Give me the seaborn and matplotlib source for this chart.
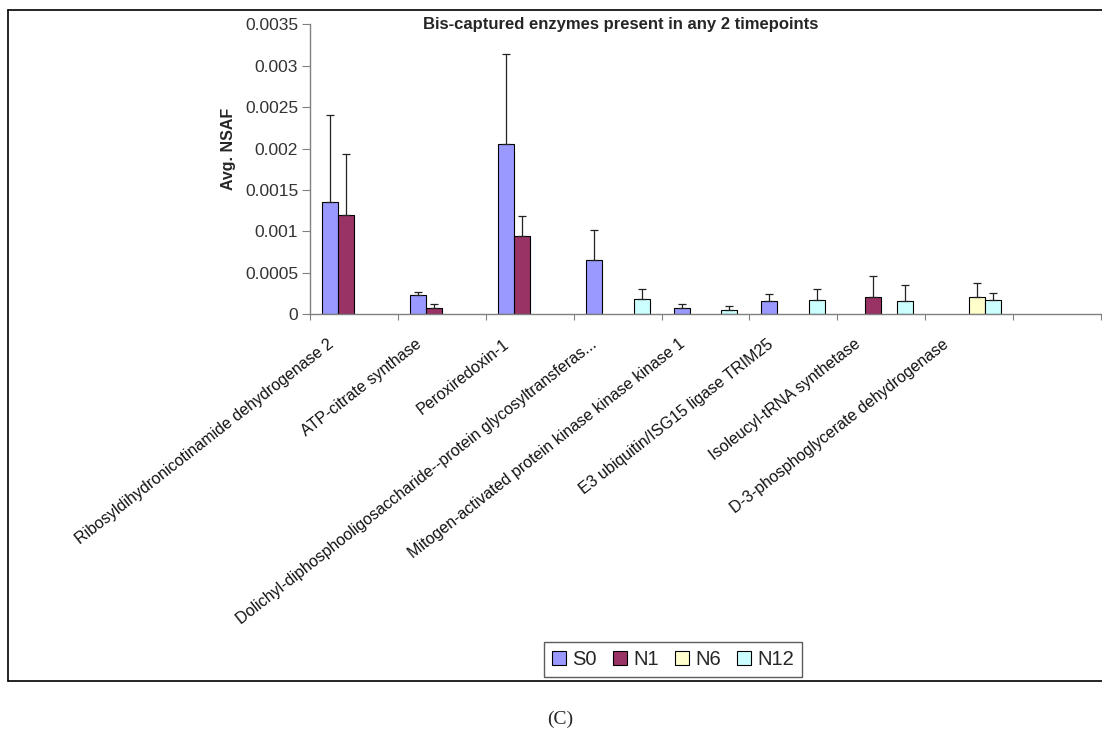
import numpy as np
import pandas as pd
import matplotlib
matplotlib.use("Agg")
import matplotlib.pyplot as plt
import seaborn as sns
from matplotlib.lines import Line2D
from matplotlib.patches import Rectangle
from matplotlib.transforms import ScaledTranslation

# ---- data -------------------------------------------------------------
proteins = [
    "Ribosyldihydronicotinamide dehydrogenase 2",
    "ATP-citrate synthase",
    "Peroxiredoxin-1",
    "Dolichyl-diphosphooligosaccharide--protein glycosyltransferas...",
    "Mitogen-activated protein kinase kinase kinase 1",
    "E3 ubiquitin/ISG15 ligase TRIM25",
    "Isoleucyl-tRNA synthetase",
    "D-3-phosphoglycerate dehydrogenase",
    "",
]
series = ["S0", "N1", "N6", "N12"]
nan = np.nan

s0_mean = [0.00135, 0.00023, 0.00206, 0.00065, 0.00008, 0.000165, nan, nan, nan]
s0_err = [0.00105, 0.000045, 0.00108, 0.00037, 0.00005, 0.000085, nan, nan, nan]
n1_mean = [0.00120, 0.00008, 0.00095, nan, nan, nan, 0.00021, nan, nan]
n1_err = [0.00073, 0.00004, 0.00024, nan, nan, nan, 0.000255, nan, nan]
n6_mean = [nan, nan, nan, nan, nan, nan, nan, 0.00021, nan]
n6_err = [nan, nan, nan, nan, nan, nan, nan, 0.00017, nan]
n12_mean = [nan, nan, nan, 0.00019, 0.000055, 0.000175, 0.000165, 0.000175, nan]
n12_err = [nan, nan, nan, 0.00012, 0.00005, 0.000135, 0.00019, 0.000085, nan]

colors = ["#9999FF", "#993366", "#FFFFCC", "#CCFFFF"]

means = {"S0": s0_mean, "N1": n1_mean, "N6": n6_mean, "N12": n12_mean}
errs = {"S0": s0_err, "N1": n1_err, "N6": n6_err, "N12": n12_err}

rows = []
for s in series:
    for p, m, e in zip(proteins, means[s], errs[s]):
        if not np.isnan(m):
            rows.append({"protein": p, "series": s, "nsaf": m, "err": e})
df = pd.DataFrame(rows)

# ---- figure -----------------------------------------------------------
sns.set_style("white")
plt.rcParams["font.family"] = ["Liberation Sans", "DejaVu Sans"]

W, H = 1102, 729
fig = plt.figure(figsize=(W / 100, H / 100), dpi=100)
ax = fig.add_axes([310 / W, 1 - 314.3 / H, (1101 - 310) / W, (314.3 - 24.3) / H])

sns.barplot(
    data=df, x="protein", y="nsaf", hue="series",
    order=proteins, hue_order=series, palette=colors,
    width=0.727, errorbar=None, saturation=1,
    edgecolor="black", linewidth=0.8, ax=ax,
)

# upper error bars drawn on top of each bar
bars = [p for p in ax.patches if isinstance(p, Rectangle)]
for bar in bars:
    h = bar.get_height()
    if not np.isfinite(h) or h <= 0:
        continue
    cx = bar.get_x() + bar.get_width() / 2
    cat = proteins[int(round(cx))]
    hit = df[(df["protein"] == cat) & np.isclose(df["nsaf"], h, rtol=0, atol=1e-12)]
    if hit.empty:
        continue
    e = hit["err"].iloc[0]
    ax.errorbar(cx, h, yerr=[[0], [e]], fmt="none", ecolor="#222222",
                elinewidth=0.9, capsize=2.8, capthick=0.9, zorder=3)

ax.set_ylim(0, 0.0035)
ax.set_xlim(-0.5, len(proteins) - 0.5)
ax.set_yticks(np.arange(0, 0.0036, 0.0005))
ax.set_yticklabels(["0", "0.0005", "0.001", "0.0015", "0.002", "0.0025",
                    "0.003", "0.0035"])
ax.tick_params(axis="y", which="major", left=True, length=5.5, width=0.8,
               color="#808080", labelsize=12.5, labelcolor="#333333", pad=3)

# category boundary ticks (major, unlabeled) and centered labels (minor)
ax.set_xticks(np.arange(-0.5, len(proteins), 1.0))
ax.set_xticklabels([])
ax.set_xticks(np.arange(len(proteins)), minor=True)
ax.set_xticklabels(proteins, minor=True, rotation=38, ha="right",
                   rotation_mode="anchor", fontsize=11.5, color="#111111")
ax.tick_params(axis="x", which="major", bottom=True, length=4.5, width=0.8,
               color="#808080")
ax.tick_params(axis="x", which="minor", bottom=False, length=0, pad=0)
shift = ScaledTranslation(-27 / 100, -22 / 100, fig.dpi_scale_trans)
for lab in ax.get_xticklabels(minor=True):
    lab.set_transform(lab.get_transform() + shift)

ax.set_xlabel("")
ax.set_ylabel("")
for side in ("top", "right"):
    ax.spines[side].set_visible(False)
for side in ("left", "bottom"):
    ax.spines[side].set_color("#808080")
    ax.spines[side].set_linewidth(1.0)
ax.grid(False)

# legend
handles, labels = ax.get_legend_handles_labels()
if ax.get_legend() is not None:
    ax.get_legend().remove()
for hnd in handles:
    hnd.set_edgecolor("black")
    hnd.set_linewidth(0.8)
leg = fig.legend(handles, labels, loc="center", bbox_to_anchor=(673 / W, 1 - 659.5 / H),
                 ncol=4, fontsize=14.5, frameon=True, fancybox=False,
                 handlelength=0.7, handleheight=0.7, handletextpad=0.3,
                 columnspacing=0.8, borderpad=0.4, borderaxespad=0)
leg.get_frame().set_edgecolor("#333333")
leg.get_frame().set_linewidth(1.0)

# titles
fig.text(620.7 / W, 1 - 25 / H, "Bis-captured enzymes present in any 2 timepoints",
         ha="center", va="center", fontsize=12, fontweight="bold")
fig.text(228 / W, 1 - 149 / H, "Avg. NSAF", ha="center", va="center",
         rotation=90, fontsize=11.5, fontweight="bold")
fig.text(560.5 / W, 1 - 719 / H, "(C)", ha="center", va="center",
         fontsize=14, family=["Liberation Serif", "DejaVu Serif"])

# frame around the chart area
for xs, ys in [((8, W), (10, 10)), ((8, 8), (10, 681)), ((8, W), (681, 681))]:
    fig.add_artist(Line2D([x / W for x in xs], [1 - y / H for y in ys],
                          color="black", linewidth=1.2))

fig.savefig("out.png", dpi=100)
